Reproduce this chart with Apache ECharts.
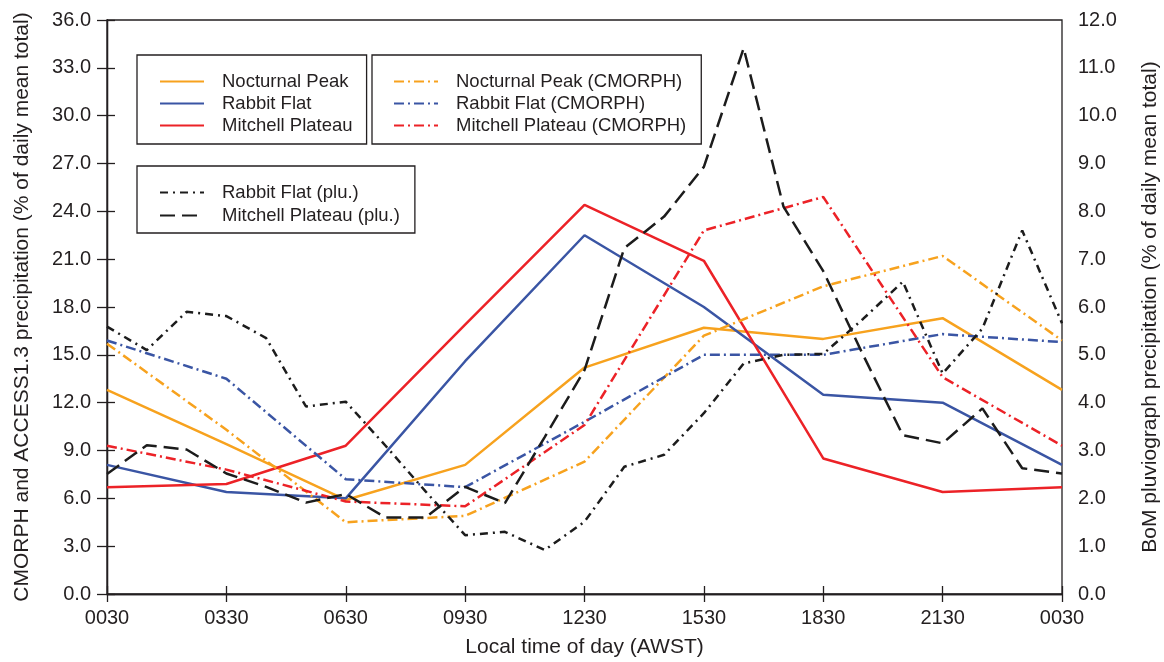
<!DOCTYPE html>
<html>
<head>
<meta charset="utf-8">
<script src="https://cdn.jsdelivr.net/npm/echarts@6/dist/echarts.min.js"></script>
<style>
  html, body { margin: 0; padding: 0; background: #fff; }
  #chart { width: 1164px; height: 662px; }
</style>
</head>
<body>
<div id="chart"></div>
<script>
// Hours after 0030 AWST for the 3-hourly model / satellite composites
const hours3 = [0, 3, 6, 9, 12, 15, 18, 21, 24];
// Hours after 0030 AWST for the hourly pluviograph composites
const hours1 = [0, 1, 2, 3, 4, 5, 6, 7, 8, 9, 10, 11, 12, 13, 14, 15, 16, 17, 18, 19, 20, 21, 22, 23, 24];
const timeLabels = ['0030', '0330', '0630', '0930', '1230', '1530', '1830', '2130', '0030'];

// ACCESS1.3 diurnal cycle (% of daily mean total), left axis
const nocturnalPeak   = [12.8, 9.4, 5.9, 8.1, 14.2, 16.7, 16.0, 17.3, 12.8];
const rabbitFlat      = [8.1, 6.4, 6.0, 14.6, 22.5, 18.0, 12.5, 12.0, 8.1];
const mitchellPlateau = [6.7, 6.9, 9.3, 16.9, 24.4, 20.9, 8.5, 6.4, 6.7];

// CMORPH diurnal cycle (% of daily mean total), left axis
const nocturnalPeakCmorph   = [15.7, 10.3, 4.5, 4.9, 8.3, 16.2, 19.3, 21.2, 15.9];
const rabbitFlatCmorph      = [15.9, 13.5, 7.2, 6.7, 10.8, 15.0, 15.0, 16.3, 15.8];
const mitchellPlateauCmorph = [9.3, 7.8, 5.8, 5.5, 10.6, 22.8, 24.9, 13.6, 9.3];

// BoM pluviograph diurnal cycle (% of daily mean total), right axis
const rabbitFlatPlu = [5.59, 5.1, 5.9, 5.81, 5.35, 3.92, 4.02, 3.1, 2.15, 1.23, 1.30, 0.92, 1.51,
                       2.66, 2.91, 3.78, 4.82, 5.0, 5.02, 5.75, 6.53, 4.61, 5.55, 7.6, 5.66];
const mitchellPlateauPlu = [2.51, 3.11, 3.02, 2.52, 2.24, 1.91, 2.09, 1.6, 1.6, 2.24, 1.9, 3.28, 4.68,
                            7.23, 7.89, 8.93, 11.41, 8.1, 6.75, 5.0, 3.32, 3.15, 3.88, 2.63, 2.52];

const FONT = 'Liberation Sans, Arial, Helvetica, sans-serif';
const INK = '#231f20';
const ORANGE = '#f7a21e';
const BLUE = '#3a55a4';
const RED = '#ec2227';
const BLACK = '#1c1c1c';

const pair = (xs, ys) => xs.map((x, i) => [x, ys[i]]);

function line(name, xs, ys, color, type, xAxisIndex, yAxisIndex) {
  return {
    name: name,
    type: 'line',
    xAxisIndex: xAxisIndex,
    yAxisIndex: yAxisIndex,
    data: pair(xs, ys),
    symbol: 'none',
    animation: false,
    lineStyle: { color: color, width: 2.5, type: type },
    itemStyle: { color: color }
  };
}

const dashDot = [10, 4, 2, 4];
const plDashDot = [8, 5, 2, 5];
const plDash = [15, 7];

const legendBase = {
  orient: 'vertical',
  itemWidth: 44,
  itemHeight: 14,
  borderColor: INK,
  borderWidth: 1.3,
  backgroundColor: '#fff',
  textStyle: { fontFamily: FONT, fontSize: 18.5, color: INK, padding: [0, 0, 0, 13] },
  lineStyle: { width: 2 },
  itemStyle: { opacity: 0 },
  inactiveColor: '#999'
};

const frameAxis = {
  axisLine: { show: true, lineStyle: { color: INK, width: 1.3 } },
  splitLine: { show: false }
};

const option = {
  animation: false,
  backgroundColor: '#fff',
  grid: {
    left: 107, right: 102, top: 20, bottom: 68, containLabel: false,
    outerBoundsMode: 'none',
    show: true, borderColor: INK, borderWidth: 1.3, backgroundColor: 'transparent'
  },
  legend: [
    Object.assign({}, legendBase, {
      left: 137, top: 55, padding: [17, 14, 9, 22], itemGap: 3,
      data: ['Nocturnal Peak', 'Rabbit Flat', 'Mitchell Plateau']
    }),
    Object.assign({}, legendBase, {
      left: 372, top: 55, padding: [17, 15, 9, 21], itemGap: 3,
      data: ['Nocturnal Peak (CMORPH)', 'Rabbit Flat (CMORPH)', 'Mitchell Plateau (CMORPH)']
    }),
    Object.assign({}, legendBase, {
      left: 137, top: 166, padding: [17, 15, 8, 22], itemGap: 4,
      data: ['Rabbit Flat (plu.)', 'Mitchell Plateau (plu.)']
    })
  ],
  xAxis: [
    Object.assign({}, frameAxis, {
      type: 'value', position: 'bottom', min: 0, max: 24, interval: 3,
      name: 'Local time of day (AWST)', nameLocation: 'middle', nameGap: 43,
      nameTextStyle: { fontFamily: FONT, fontSize: 21, color: INK },
      axisTick: { show: true, inside: false, length: 8, lineStyle: { color: INK, width: 1.3 } },
      axisLabel: {
        margin: 14, fontFamily: FONT, fontSize: 20, color: INK,
        formatter: v => timeLabels[Math.round(v / 3)]
      }
    }),
    Object.assign({}, frameAxis, {
      type: 'value', position: 'top', min: 0, max: 24, interval: 3,
      axisTick: { show: true, inside: false, length: 8, lineStyle: { color: INK, width: 1.3 } },
      axisLabel: { show: false }
    })
  ],
  yAxis: [
    Object.assign({}, frameAxis, {
      type: 'value', position: 'left', min: 0, max: 36, interval: 3,
      name: 'CMORPH and ACCESS1.3 precipitation (% of daily mean total)',
      nameLocation: 'middle', nameGap: 74,
      nameTextStyle: { fontFamily: FONT, fontSize: 21, color: INK },
      axisTick: { show: true, inside: false, length: 10, lineStyle: { color: INK, width: 1.3 } },
      axisLabel: { margin: 16, fontFamily: FONT, fontSize: 20, color: INK, formatter: v => v.toFixed(1) }
    }),
    Object.assign({}, frameAxis, {
      type: 'value', position: 'right', min: 0, max: 12, interval: 1,
      name: 'BoM pluviograph precipitation (% of daily mean total)',
      nameLocation: 'middle', nameGap: 78,
      nameTextStyle: { fontFamily: FONT, fontSize: 21, color: INK },
      axisTick: { show: true, inside: false, length: 8, lineStyle: { color: INK, width: 1.3 } },
      axisLabel: { margin: 16, fontFamily: FONT, fontSize: 20, color: INK, formatter: v => v.toFixed(1) }
    })
  ],
  series: [
    line('Nocturnal Peak', hours3, nocturnalPeak, ORANGE, 'solid', 0, 0),
    line('Rabbit Flat', hours3, rabbitFlat, BLUE, 'solid', 0, 0),
    line('Mitchell Plateau', hours3, mitchellPlateau, RED, 'solid', 0, 0),
    line('Nocturnal Peak (CMORPH)', hours3, nocturnalPeakCmorph, ORANGE, dashDot, 0, 0),
    line('Rabbit Flat (CMORPH)', hours3, rabbitFlatCmorph, BLUE, dashDot, 0, 0),
    line('Mitchell Plateau (CMORPH)', hours3, mitchellPlateauCmorph, RED, dashDot, 0, 0),
    line('Rabbit Flat (plu.)', hours1, rabbitFlatPlu, BLACK, plDashDot, 1, 1),
    line('Mitchell Plateau (plu.)', hours1, mitchellPlateauPlu, BLACK, plDash, 1, 1)
  ]
};

const chart = echarts.init(document.getElementById('chart'), null, { renderer: 'canvas' });
chart.setOption(option);
</script>
</body>
</html>
